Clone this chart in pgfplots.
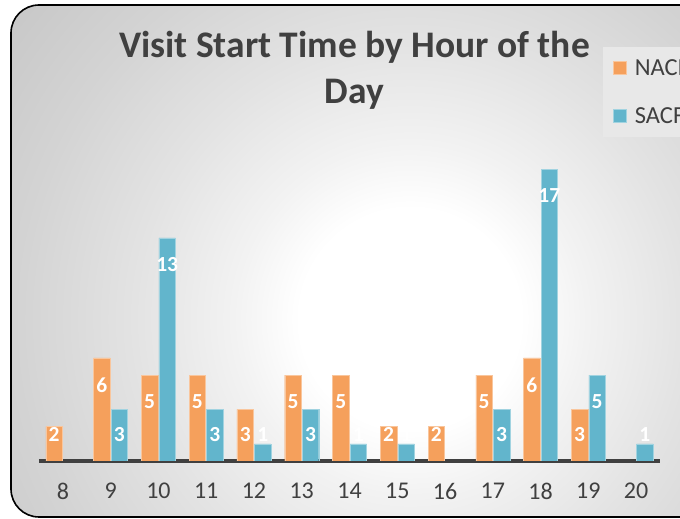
\documentclass[border=0pt]{standalone}
\usepackage{pgfplots}
\pgfplotsset{compat=1.18}
\usepackage{fontspec}
\setmainfont{Carlito}
\definecolor{nacf}{HTML}{F5A05C}
\definecolor{sacf}{HTML}{62B5CC}
\definecolor{txt}{HTML}{404040}
\pgfdeclareradialshading{bgshade}{\pgfpoint{0bp}{0bp}}{color(0bp)=(white); color(110bp)=(white); color(175bp)=(black!5); color(275bp)=(black!11); color(390bp)=(black!17); color(510bp)=(black!22); color(700bp)=(black!26)}
\pgfplotsset{sqlegend/.style={legend image code/.code={\draw[##1, line width=0.8pt] (0pt,-6.5pt) rectangle (13pt,6.5pt);}}}
\begin{document}
\begin{tikzpicture}[x=1pt,y=1pt]
\path[use as bounding box] (0,0) rectangle (680,519);
\clip (0,0) rectangle (680,519);
\begin{scope}
\clip[rounded corners=28pt] (11,2) rectangle (760,514);
\begin{scope}[shift={(410,200)}]
\pgftext{\pgfuseshading{bgshade}}
\end{scope}
\end{scope}
\draw[line width=1.6pt, rounded corners=28pt] (11,2) rectangle (760,514);
\begin{axis}[
  at={(39pt,58pt)}, anchor=south west,
  scale only axis, width=621pt, height=309pt,
  ybar=1pt, bar width=16.5pt,
  xmin=7.5, xmax=20.5, ymin=0, ymax=18,
  xtick={8,...,20},
  ytick={12,14,16,18}, yticklabels={},
  extra y ticks={2,4,6,8,10}, extra y tick labels={},
  extra y tick style={grid style={black!35, line width=1.3pt}},
  ymajorgrids,
  major grid style={black!18, line width=1.3pt},
  major tick length=0pt,
  axis y line=none,
  axis x line*=bottom,
  x axis line style={line width=3.5pt, color=txt, -},
  /pgf/number format/assume math mode=true,
  xticklabel style={font=\fontsize{24}{24}\selectfont, text=txt, anchor=center, yshift=-30pt},
  title={Visit Start Time by Hour of the\\Day},
  title style={at={(axis description cs:0.508,1.246)}, anchor=center, align=center,
    font=\bfseries\fontsize{37.5}{46}\selectfont, text=txt},
  legend style={at={(axis description cs:0.908,1.340)}, anchor=north west,
    fill=black!9, draw=none, font=\fontsize{24.5}{24.5}\selectfont, text=txt,
    inner xsep=10pt, inner ysep=10pt, row sep=27pt,
    /tikz/every odd column/.append style={column sep=6pt}},
  legend cell align=left,
  every axis plot post/.append style={sqlegend},
  nodes near coords,
  nodes near coords align={center},
  visualization depends on={y \as \rawy},
  every node near coord/.append style={font=\bfseries\fontsize{21.5}{21.5}\selectfont, text=white,
    anchor=center, yshift={(max(\rawy-1.56,1.56)-\rawy)*17.17}},
]
\addplot[fill=nacf, draw=nacf!60!white] coordinates {
  (8,2) (9,6) (10,5) (11,5) (12,3) (13,5) (14,5) (15,2) (16,2) (17,5) (18,6) (19,3)};
\addplot[fill=sacf, draw=sacf!60!white] coordinates {
  (9,3) (10,13) (11,3) (12,1) (13,3) (14,1) (15,1) (17,3) (18,17) (19,5) (20,1)};
\legend{NACF, SACF}
\end{axis}
\end{tikzpicture}
\end{document}
